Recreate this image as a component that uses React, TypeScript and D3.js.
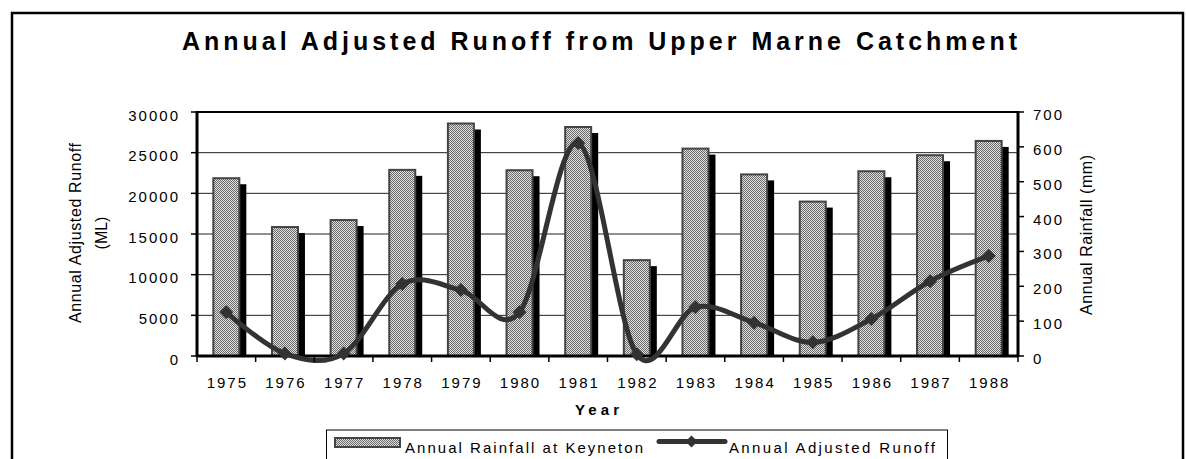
import React from "react";
import * as d3 from "d3";

const years = ["1975","1976","1977","1978","1979","1980","1981","1982","1983","1984","1985","1986","1987","1988"];
const rainfall = [510, 370, 390, 534, 667, 533, 657, 275, 595, 521, 443, 530, 576, 617];
const runoff = [5370, 300, 300, 8850, 8100, 5400, 26200, 200, 5980, 4100, 1680, 4550, 9200, 12300];
const leftTicks = [0, 5000, 10000, 15000, 20000, 25000, 30000];
const rightTicks = [0, 100, 200, 300, 400, 500, 600, 700];

const FONT = "'Liberation Sans', Arial, sans-serif";

export default function App() {
  const W = 1186, H = 459;
  const x0 = 197, x1 = 1018, yTop = 112, yBot = 356;
  const x = d3.scaleBand().domain(years).range([x0, x1]).paddingInner(0).paddingOuter(0);
  const yL = d3.scaleLinear().domain([0, 30000]).range([yBot, yTop]);
  const yR = d3.scaleLinear().domain([0, 700]).range([yBot, yTop]);
  const barW = 26;
  const line = d3.line<number>()
    .x((_, i) => (x(years[i]) as number) + x.bandwidth() / 2)
    .y((d) => yL(d))
    .curve(d3.curveCardinal.tension(0));
  const diamond = (cx: number, cy: number, r: number) =>
    `M${cx},${cy - r}L${cx + r},${cy}L${cx},${cy + r}L${cx - r},${cy}Z`;
  const tickStyle: React.CSSProperties = { fontFamily: FONT, fontSize: 15, letterSpacing: 2 };

  return (
    <svg width={W} height={H} style={{ position: "absolute", left: 0, top: 0, background: "#fff" }}>
      <defs>
        <pattern id="dots" width="2" height="2" patternUnits="userSpaceOnUse">
          <rect width="2" height="2" fill="#e0e0e0" />
          <rect width="1" height="1" fill="#6a6a6a" />
          <rect x="1" y="1" width="1" height="1" fill="#6a6a6a" />
        </pattern>
      </defs>
      {/* outer border */}
      <rect x={12} y={13} width={1171} height={500} fill="none" stroke="#000" strokeWidth={2.5} />
      {/* title */}
      <text x={599.5} y={50} textAnchor="middle" fontFamily={FONT} fontWeight="bold" fontSize={25}
        textLength={835} lengthAdjust="spacing">Annual Adjusted Runoff from Upper Marne Catchment</text>

      {/* gridlines */}
      {leftTicks.filter((t) => t > 0 && t < 30000).map((t) => (
        <line key={t} x1={x0} x2={x1} y1={yL(t)} y2={yL(t)} stroke="#222" strokeWidth={1} />
      ))}

      {/* bars */}
      {rainfall.map((v, i) => {
        const cx = (x(years[i]) as number) + x.bandwidth() / 2;
        const top = yR(v);
        return (
          <g key={i}>
            <rect x={cx - barW / 2 + 7} y={top + 6} width={barW} height={yBot - top - 6} fill="#000" />
            <rect x={cx - barW / 2} y={top} width={barW} height={yBot - top} fill="url(#dots)" stroke="#444" strokeWidth={2} />
          </g>
        );
      })}

      {/* plot frame */}
      <line x1={x0} x2={x1} y1={yTop} y2={yTop} stroke="#000" strokeWidth={2} />
      <line x1={x0} x2={x0} y1={yTop - 1} y2={yBot + 1} stroke="#000" strokeWidth={3} />
      <line x1={x1} x2={x1} y1={yTop - 1} y2={yBot + 1} stroke="#000" strokeWidth={3} />
      <line x1={x0} x2={x1} y1={yBot} y2={yBot} stroke="#000" strokeWidth={3} />

      {/* runoff line */}
      <path d={line(runoff) as string} fill="none" stroke="#333" strokeWidth={5} strokeLinejoin="round" />
      {runoff.map((v, i) => {
        const cx = (x(years[i]) as number) + x.bandwidth() / 2;
        return <path key={i} d={diamond(cx, yL(v), 7)} fill="#333" />;
      })}

      {/* left axis */}
      {leftTicks.map((t) => (
        <g key={t}>
          <line x1={x0 - 6} x2={x0} y1={yL(t)} y2={yL(t)} stroke="#000" strokeWidth={1.5} />
          <text x={180} y={yL(t) + 8.5} textAnchor="end" style={tickStyle}>{t}</text>
        </g>
      ))}
      {/* right axis */}
      {rightTicks.map((t) => (
        <g key={t}>
          <line x1={x1} x2={x1 + 6} y1={yR(t)} y2={yR(t)} stroke="#000" strokeWidth={1.5} />
          <text x={1033} y={yR(t) + 8} textAnchor="start" style={tickStyle}>{t}</text>
        </g>
      ))}
      {/* x axis ticks */}
      {years.map((yr) => (
        <line key={yr} x1={x(yr) as number} x2={x(yr) as number} y1={yBot} y2={yBot + 6} stroke="#000" strokeWidth={1.5} />
      ))}
      <line x1={x1} x2={x1} y1={yBot} y2={yBot + 6} stroke="#000" strokeWidth={1.5} />
      {years.map((yr) => (
        <text key={yr} x={(x(yr) as number) + x.bandwidth() / 2 + 1} y={388} textAnchor="middle" style={tickStyle}>{yr}</text>
      ))}

      {/* axis titles */}
      <text transform="translate(597,415)" textAnchor="middle" fontFamily={FONT} fontWeight="bold" fontSize={15} textLength={44} lengthAdjust="spacing">Year</text>
      <g transform="translate(81,233) rotate(-90)">
        <text x={0} y={0} textAnchor="middle" fontFamily={FONT} fontSize={16} textLength={180} lengthAdjust="spacing">Annual Adjusted Runoff</text>
        <text x={0} y={26} textAnchor="middle" fontFamily={FONT} fontSize={16}>(ML)</text>
      </g>
      <g transform="translate(1092,235) rotate(-90)">
        <text x={0} y={0} textAnchor="middle" fontFamily={FONT} fontSize={16} textLength={160} lengthAdjust="spacing">Annual Rainfall (mm)</text>
      </g>

      {/* legend */}
      <rect x={326.5} y={430} width={621} height={60} fill="#fff" stroke="#000" strokeWidth={1} />
      <rect x={335} y={438} width={65} height={9} fill="url(#dots)" stroke="#444" strokeWidth={2} />
      <text x={405} y={453} fontFamily={FONT} fontSize={15} textLength={238} lengthAdjust="spacing">Annual Rainfall at Keyneton</text>
      <line x1={659} x2={725} y1={441.5} y2={441.5} stroke="#333" strokeWidth={5} strokeLinecap="round" />
      <path d={diamond(691.5, 441.5, 6)} fill="#333" />
      <text x={729} y={453} fontFamily={FONT} fontSize={15} textLength={206} lengthAdjust="spacing">Annual Adjusted Runoff</text>
    </svg>
  );
}
